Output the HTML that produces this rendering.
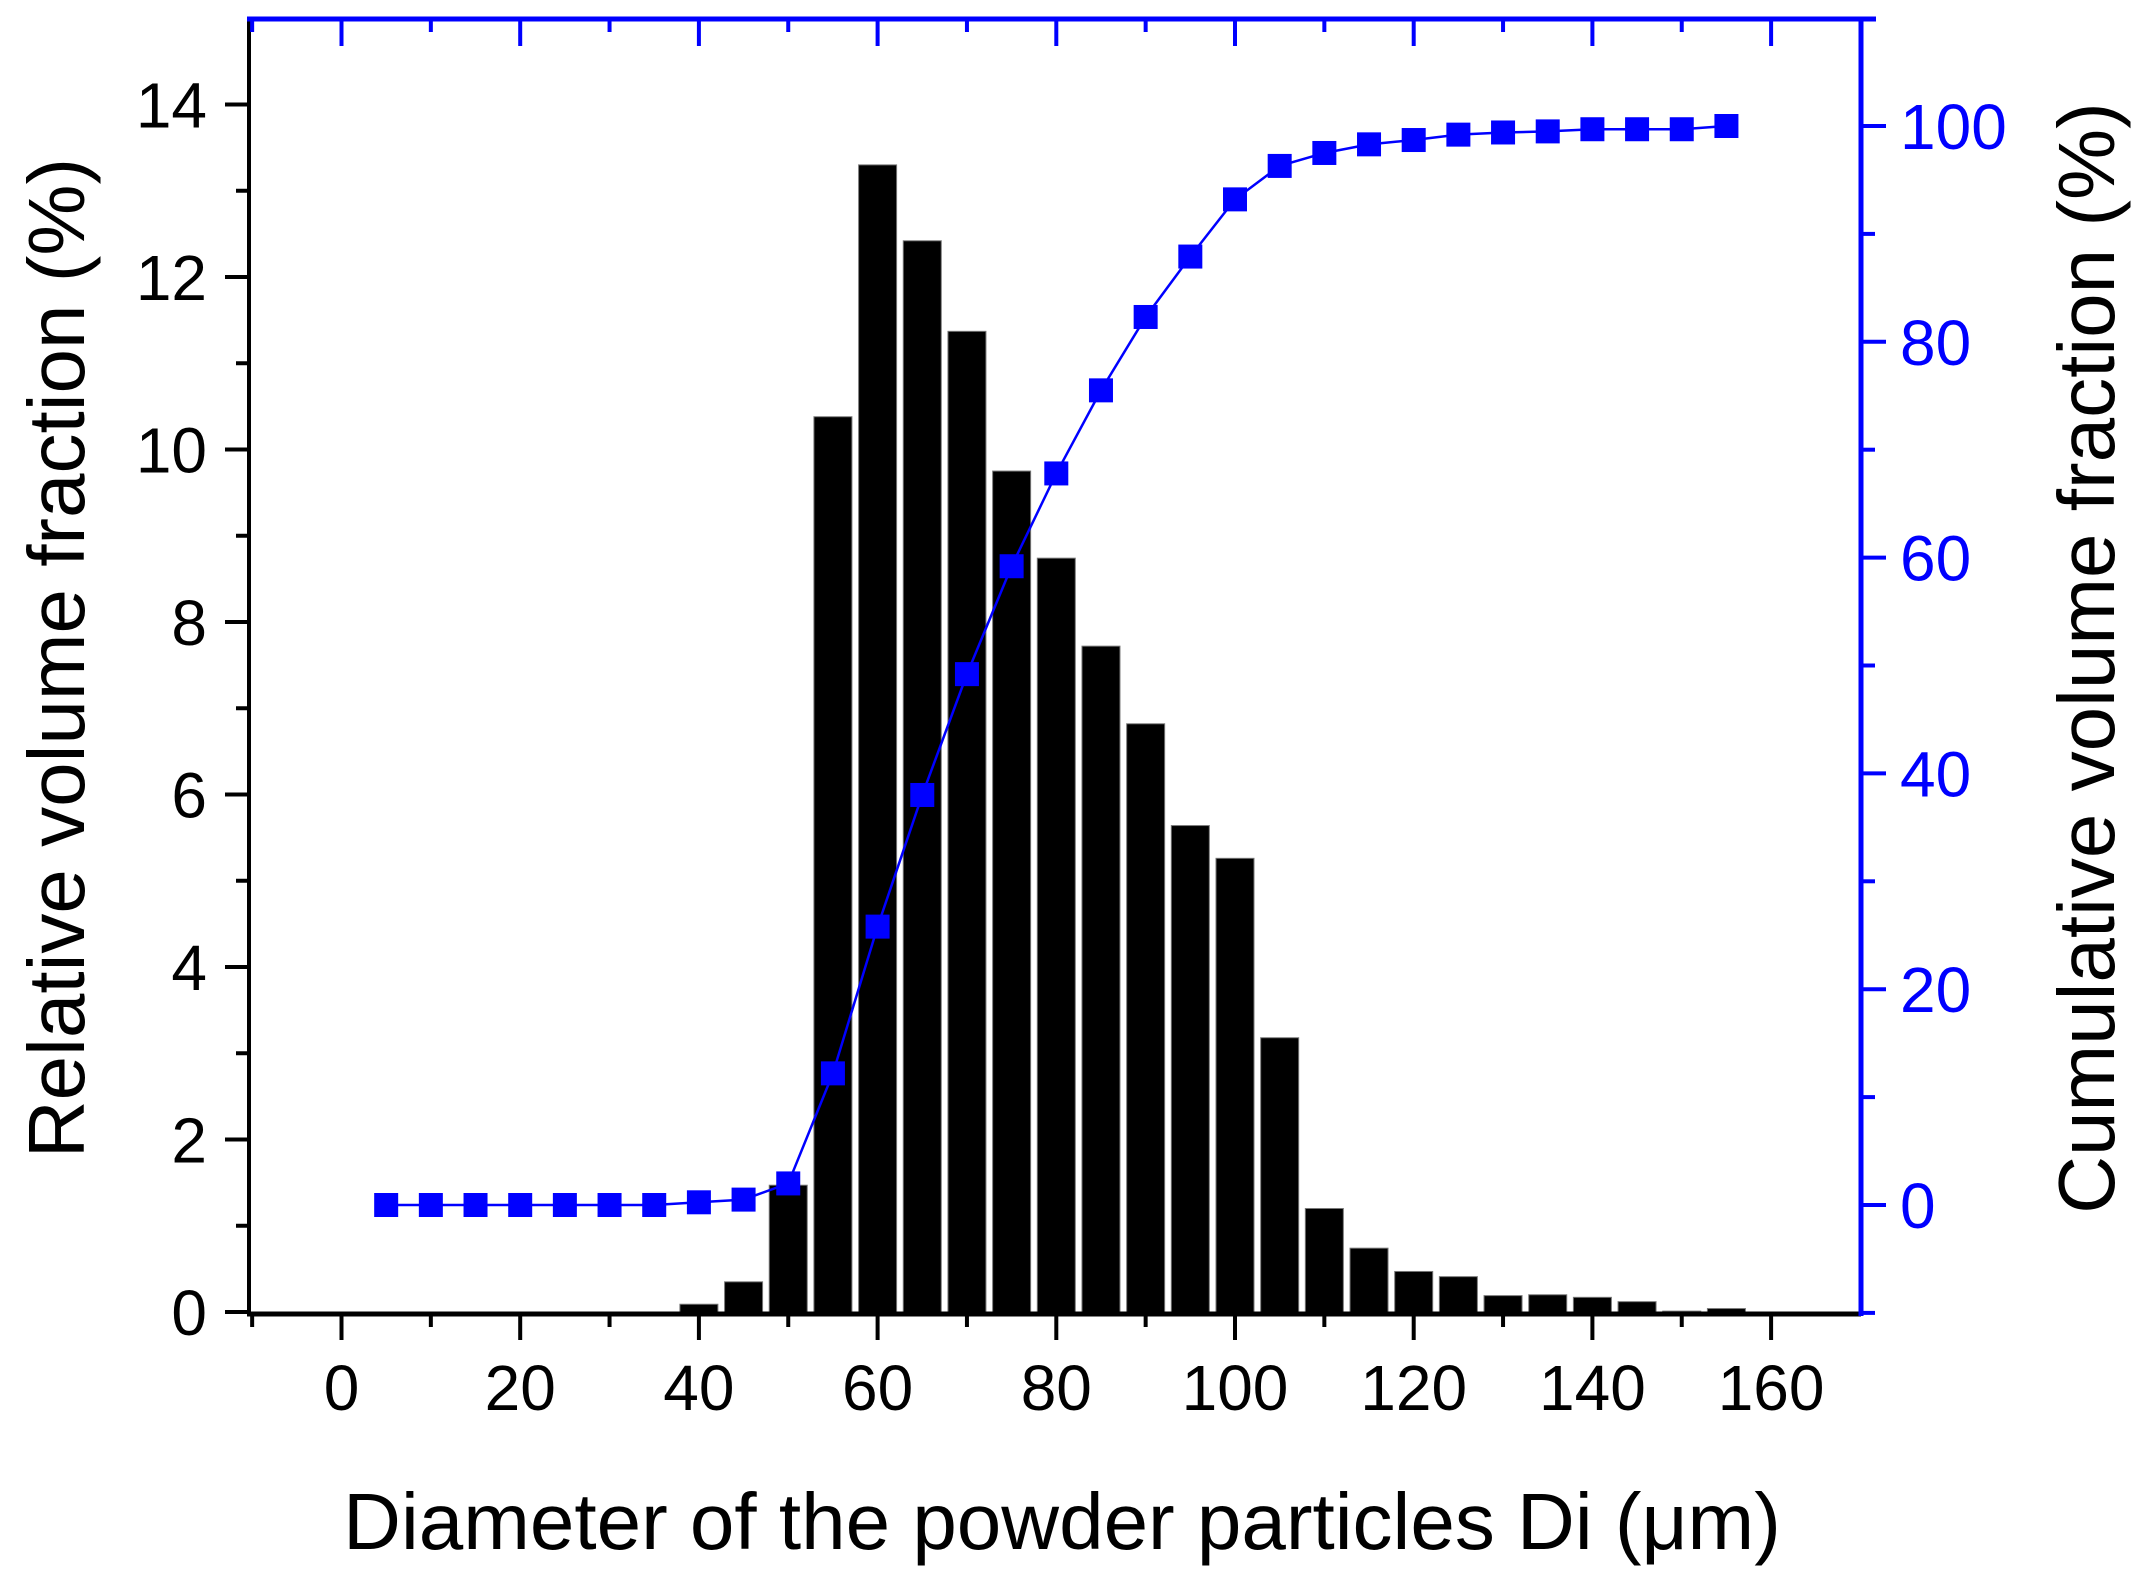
<!DOCTYPE html>
<html><head><meta charset="utf-8"><style>
html,body{margin:0;padding:0;background:#fff;}
svg{display:block;}
text{font-family:"Liberation Sans",Arial,sans-serif;}
</style></head><body>
<svg width="2139" height="1579" viewBox="0 0 2139 1579" xmlns="http://www.w3.org/2000/svg">
<g id="bars" fill="#000" stroke="#777" stroke-width="1"></g>
<polyline id="cum" fill="none" stroke="#0000ff" stroke-width="2.5"/>
<g id="marks" fill="#0000ff"></g>
<g id="axes"></g>
<text x="1062" y="1549" font-size="80" text-anchor="middle">Diameter of the powder particles Di (μm)</text>
<text transform="translate(84,658) rotate(-90)" font-size="80" text-anchor="middle">Relative volume fraction (%)</text>
<text transform="translate(2114,658) rotate(-90)" font-size="80" text-anchor="middle">Cumulative volume fraction (%)</text>
<script>
const NS="http://www.w3.org/2000/svg";
const X=v=>341.5+8.935*v, YL=v=>1312-86.25*v, YR=v=>1205-10.79*v;
function el(p,t,a,txt){const e=document.createElementNS(NS,t);for(const k in a)e.setAttribute(k,a[k]);if(txt!==undefined)e.textContent=txt;p.appendChild(e);return e;}
const bars=[[40,.09],[45,.35],[50,1.47],[55,10.38],[60,13.3],[65,12.42],[70,11.37],[75,9.75],[80,8.74],[85,7.72],[90,6.82],[95,5.64],[100,5.26],[105,3.18],[110,1.2],[115,.74],[120,.47],[125,.41],[130,.19],[135,.2],[140,.17],[145,.12],[150,.01],[155,.04]];
const bg=document.getElementById('bars');
bars.forEach(([x,h])=>{el(bg,'rect',{x:X(x)-19,y:YL(h),width:38,height:1312-YL(h)});});
const cum=[[5,0],[10,0],[15,0],[20,0],[25,0],[30,0],[35,0],[40,.25],[45,.5],[50,2],[55,12.2],[60,25.8],[65,38],[70,49.2],[75,59.2],[80,67.8],[85,75.5],[90,82.3],[95,87.9],[100,93.2],[105,96.3],[110,97.5],[115,98.3],[120,98.7],[125,99.2],[130,99.4],[135,99.5],[140,99.7],[145,99.7],[150,99.7],[155,100]];
document.getElementById('cum').setAttribute('points',cum.map(([x,y])=>X(x)+','+YR(y)).join(' '));
const mg=document.getElementById('marks');
cum.forEach(([x,y])=>el(mg,'rect',{x:X(x)-12,y:YR(y)-12,width:24,height:24}));
const ax=document.getElementById('axes');
el(ax,'line',{x1:249,y1:18,x2:249,y2:1316,stroke:'#000','stroke-width':4});
el(ax,'line',{x1:247,y1:1314,x2:1861,y2:1314,stroke:'#000','stroke-width':5});
el(ax,'line',{x1:247,y1:19,x2:1876,y2:19,stroke:'#0000ff','stroke-width':5});
el(ax,'line',{x1:1861,y1:17,x2:1861,y2:1316,stroke:'#0000ff','stroke-width':5});
for(let v=-10;v<=170;v+=10){
  const x=X(v); if(x<250||x>1860) continue;
  const maj=v%20===0;
  el(ax,'line',{x1:x,y1:1314,x2:x,y2:1314+(maj?26:13),stroke:'#000','stroke-width':4});
  el(ax,'line',{x1:x,y1:19,x2:x,y2:19+(maj?27:13),stroke:'#0000ff','stroke-width':4});
  if(maj) el(ax,'text',{x:x,y:1410,'font-size':64,'text-anchor':'middle'},String(v));
}
for(let v=0;v<=15;v++){
  const y=YL(v); if(y<20) continue;
  const maj=v%2===0;
  el(ax,'line',{x1:249,y1:y,x2:249-(maj?24:13),y2:y,stroke:'#000','stroke-width':4});
  if(maj) el(ax,'text',{x:207,y:y+23,'font-size':64,'text-anchor':'end'},String(v));
}
for(let v=-10;v<=110;v+=10){
  const y=YR(v); if(y<20||y>1313) continue;
  const maj=v%20===0;
  el(ax,'line',{x1:1861,y1:y,x2:1861+(maj?25:14),y2:y,stroke:'#0000ff','stroke-width':4});
  if(maj) el(ax,'text',{x:1900,y:y+23,'font-size':64,fill:'#0000ff'},String(v));
}
</script>
</svg>
</body></html>
